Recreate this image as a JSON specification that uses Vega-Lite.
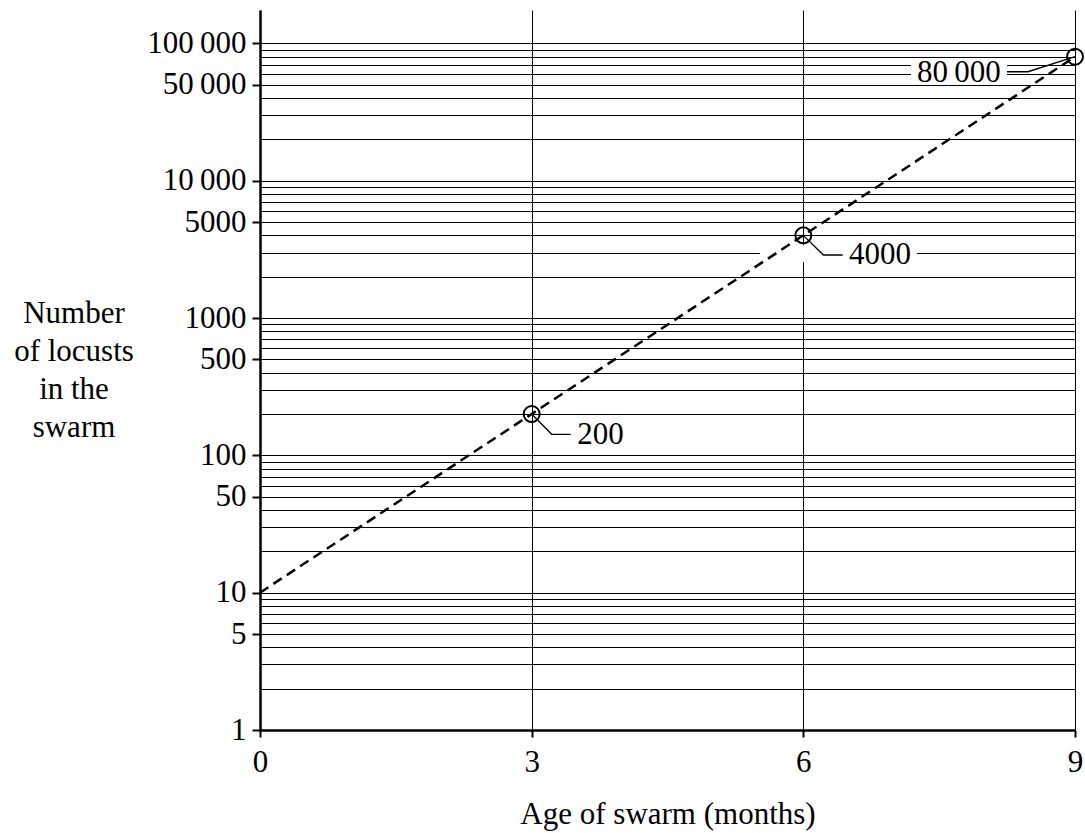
{
  "$schema": "https://vega.github.io/schema/vega-lite/v6.json",
  "width": 815,
  "height": 720,
  "autosize": {"type": "none"},
  "padding": {"left": 260, "top": 10, "right": 10, "bottom": 103},
  "background": "white",
  "config": {
    "view": {"stroke": null},
    "font": "Liberation Serif",
    "axis": {
      "labelFont": "Liberation Serif",
      "titleFont": "Liberation Serif",
      "labelFontSize": 31,
      "titleFontSize": 31,
      "titleFontWeight": "normal",
      "labelColor": "black",
      "titleColor": "black",
      "domainColor": "black",
      "tickColor": "black",
      "gridColor": "black",
      "gridOpacity": 1,
      "gridWidth": 1
    }
  },
  "datasets": {
    "points": [
      {"t": 0, "n": 10},
      {"t": 3, "n": 200},
      {"t": 6, "n": 4000},
      {"t": 9, "n": 80000}
    ],
    "markers": [
      {"t": 3, "n": 200},
      {"t": 6, "n": 4000},
      {"t": 9, "n": 80000}
    ],
    "leaders": [
      {"id": "a", "k": 0, "t": 3, "n": 200},
      {"id": "a", "k": 1, "t": 3.221, "n": 142.3},
      {"id": "a", "k": 2, "t": 3.431, "n": 142.3},
      {"id": "b", "k": 0, "t": 6, "n": 4000},
      {"id": "b", "k": 1, "t": 6.221, "n": 2876},
      {"id": "b", "k": 2, "t": 6.435, "n": 2876},
      {"id": "c", "k": 0, "t": 9, "n": 80000},
      {"id": "c", "k": 1, "t": 8.481, "n": 62150},
      {"id": "c", "k": 2, "t": 8.249, "n": 62150}
    ],
    "labels": [
      {"t": 3.502, "n": 121, "text": "200"},
      {"t": 6.504, "n": 2474, "text": "4000"},
      {"t": 7.255, "n": 52560, "text": "80\u2009000"}
    ],
    "masks": [
      {"t": 5.52, "t2": 7.255, "n": 3401, "n2": 2557},
      {"t": 7.189, "t2": 8.249, "n": 76900, "n2": 54100}
    ]
  },
  "resolve": {"axis": {"y": "independent"}},
  "layer": [
    {
      "data": {"name": "masks"},
      "mark": {"type": "rect", "color": "white", "stroke": null},
      "encoding": {
        "x": {
          "field": "t", "type": "quantitative",
          "scale": {"domain": [0, 9], "nice": false, "zero": false},
          "axis": {
            "values": [0, 3, 6, 9],
            "grid": true,
            "domainWidth": 2.5,
            "tickWidth": 2,
            "tickSize": 7,
            "labelPadding": 10,
            "labelFlush": false,
            "labelOverlap": false,
            "format": "d",
            "title": "Age of swarm (months)",
            "titleX": 407.5,
            "titleY": 93,
            "titleAlign": "center",
            "titleBaseline": "alphabetic"
          }
        },
        "x2": {"field": "t2"},
        "y": {
          "field": "n", "type": "quantitative",
          "scale": {"type": "log", "domain": [1, 175000], "nice": false},
          "axis": {
            "orient": "left",
            "values": [1,2,3,4,5,6,7,8,9,10,20,30,40,50,60,70,80,90,100,200,300,400,500,600,700,800,900,1000,2000,3000,4000,5000,6000,7000,8000,9000,10000,20000,30000,40000,50000,60000,70000,80000,90000,100000],
            "grid": true,
            "domain": false,
            "ticks": false,
            "labels": false,
            "title": null
          }
        },
        "y2": {"field": "n2"}
      }
    },
    {
      "data": {"name": "points"},
      "mark": {"type": "line", "color": "black", "strokeWidth": 2.5, "strokeDash": [10, 6]},
      "encoding": {
        "x": {"field": "t", "type": "quantitative"},
        "y": {
          "field": "n", "type": "quantitative",
          "axis": {
            "orient": "left",
            "values": [1, 5, 10, 50, 100, 500, 1000, 5000, 10000, 50000, 100000],
            "grid": false,
            "domainWidth": 2.5,
            "tickWidth": 2,
            "tickSize": 8,
            "labelPadding": 6,
            "labelOverlap": false,
            "labelFlush": false,
            "labelExpr": "datum.value >= 10000 ? replace(format(datum.value, ','), ',', '\u2009') : format(datum.value, 'd')",
            "title": ["Number", "of locusts", "in the", "swarm"],
            "titleAngle": 0,
            "titleAlign": "center",
            "titleBaseline": "alphabetic",
            "titleX": -186.5,
            "titleY": 312,
            "titleLineHeight": 38
          }
        }
      }
    },
    {
      "data": {"name": "markers"},
      "mark": {"type": "point", "shape": "circle", "filled": false, "color": "black", "strokeWidth": 2, "size": 256, "opacity": 1},
      "encoding": {
        "x": {"field": "t", "type": "quantitative"},
        "y": {"field": "n", "type": "quantitative", "axis": null}
      }
    },
    {
      "data": {"name": "leaders"},
      "mark": {"type": "line", "color": "black", "strokeWidth": 1.3},
      "encoding": {
        "x": {"field": "t", "type": "quantitative"},
        "y": {"field": "n", "type": "quantitative", "axis": null},
        "detail": {"field": "id"},
        "order": {"field": "k"}
      }
    },
    {
      "data": {"name": "labels"},
      "mark": {"type": "text", "font": "Liberation Serif", "fontSize": 31, "color": "black", "align": "left", "baseline": "alphabetic"},
      "encoding": {
        "x": {"field": "t", "type": "quantitative"},
        "y": {"field": "n", "type": "quantitative", "axis": null},
        "text": {"field": "text"}
      }
    }
  ]
}
